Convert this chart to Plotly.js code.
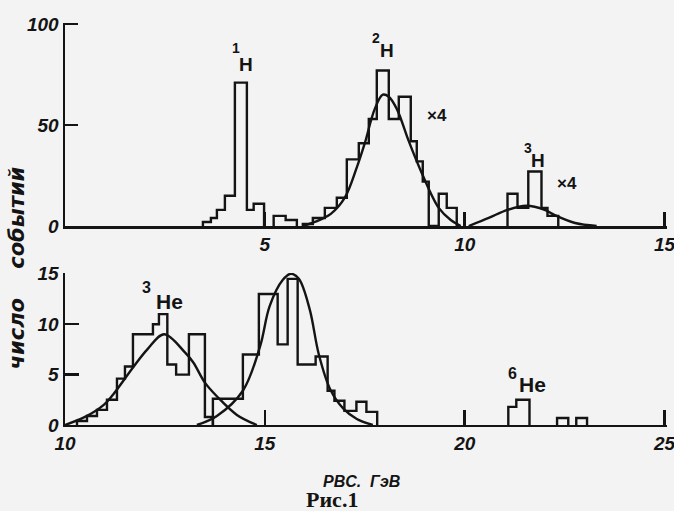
<!DOCTYPE html>
<html>
<head>
<meta charset="utf-8">
<script src="https://cdn.plot.ly/plotly-3.0.1.min.js"></script>
<style>html,body{margin:0;padding:0;background:#f3f3f3;}#chart{width:674px;height:511px;}</style>
</head>
<body>
<div id="chart"></div>
<script>
// ---- Top panel (hydrogen isotopes), x in GeV, y = number of events ----
const h1Edges  = [3.45, 3.65, 3.8, 4.0, 4.25, 4.55, 4.72, 4.98];
const h1Counts = [2, 4, 8, 15, 71, 8, 11];
const h1TailEdges  = [5.22, 5.52, 5.8];
const h1TailCounts = [5, 3];
const h2Edges  = [5.95, 6.2, 6.5, 6.8, 7.05, 7.35, 7.6, 7.8, 8.1, 8.35, 8.65, 8.8, 8.95, 9.1, 9.35, 9.55, 9.8];
const h2Counts = [1, 4, 9, 14, 33, 41, 53, 77, 53, 64, 42, 32, 22, 0, 16, 9];
const h3Edges  = [11.07, 11.32, 11.59, 11.92, 12.07, 12.34];
const h3Counts = [16, 9, 27, 9, 5];
// fitted curves
const h2FitX = [5.95, 6.25, 6.65, 7.0, 7.3, 7.5, 7.75, 7.95, 8.1, 8.3, 8.6, 8.93, 9.35, 9.65, 9.9];
const h2FitY = [0, 2, 6, 14, 29, 41, 58, 65, 64, 58, 42, 26, 9, 3, 0];
const h3FitX = [10.1, 10.6, 11.07, 11.54, 12.0, 12.24, 12.76, 13.3];
const h3FitY = [0, 4, 8, 10, 8, 5.5, 1.5, 0];

// ---- Bottom panel (helium isotopes) ----
const he3Edges  = [10.3, 10.55, 10.8, 11.05, 11.3, 11.5, 11.7, 12.2, 12.35, 12.56, 12.78, 13.1, 13.5, 13.7];
const he3Counts = [0.4, 0.9, 1.5, 2.5, 4.6, 5.8, 9, 10, 11, 6, 5, 9, 0.8];
const he4Edges  = [13.7, 14.45, 14.85, 15.32, 15.57, 15.82, 16.27, 16.57, 16.74, 16.99, 17.29, 17.54, 17.81];
const he4Counts = [2.6, 7, 13, 8, 14.5, 6, 6.8, 3.4, 2.4, 1.4, 2.3, 1.3];
const he6Edges  = [21.09, 21.29, 21.62];
const he6Counts = [1.8, 2.5];
const he6bEdges  = [22.31, 22.59];
const he6bCounts = [0.7];
const he6cEdges  = [22.79, 23.06];
const he6cCounts = [0.7];
const he3FitX = [10.0, 10.5, 10.97, 11.2, 11.72, 12.06, 12.48, 13.0, 13.21, 13.5, 13.81, 14.3, 14.8];
const he3FitY = [0, 0.8, 2, 3, 5.8, 7.5, 9, 7.2, 6.2, 4.2, 2.8, 1, 0];
const he4FitX = [13.3, 13.8, 14.45, 14.88, 15.12, 15.45, 15.65, 15.85, 16.12, 16.35, 16.64, 16.97, 17.3, 17.7];
const he4FitY = [0, 0.9, 3.4, 7.8, 11.8, 14.4, 15, 14.5, 11.5, 7, 3.5, 1.6, 0.6, 0];

// ticks
const topXTicks = [5, 10, 15];
const topYTicks = [0, 50, 100];
const botXTicks = [10, 15, 20, 25];
const botYTicks = [0, 5, 10, 15];

const INK = '#141414';

function steps(edges, counts) {
  const x = [edges[0]], y = [0];
  for (let i = 0; i < counts.length; i++) {
    x.push(edges[i], edges[i + 1]);
    y.push(counts[i], counts[i]);
  }
  x.push(edges[edges.length - 1]); y.push(0);
  return {x, y};
}
function histTrace(edges, counts, xa, ya, name) {
  const s = steps(edges, counts);
  return {x: s.x, y: s.y, xaxis: xa, yaxis: ya, type: 'scatter', mode: 'lines',
          line: {color: INK, width: 2.4, shape: 'linear'}, name: name, hoverinfo: 'skip', cliponaxis: false};
}
function fitTrace(x, y, xa, ya, name) {
  return {x: x, y: y, xaxis: xa, yaxis: ya, type: 'scatter', mode: 'lines',
          line: {color: INK, width: 2.4, shape: 'spline', smoothing: 1.0}, name: name, hoverinfo: 'skip', cliponaxis: false};
}

const data = [
  histTrace(h1Edges, h1Counts, 'x', 'y', '1H'),
  histTrace(h1TailEdges, h1TailCounts, 'x', 'y', '1H tail'),
  histTrace(h2Edges, h2Counts, 'x', 'y', '2H'),
  histTrace(h3Edges, h3Counts, 'x', 'y', '3H'),
  fitTrace(h2FitX, h2FitY, 'x', 'y', '2H fit'),
  fitTrace(h3FitX, h3FitY, 'x', 'y', '3H fit'),
  histTrace(he3Edges, he3Counts, 'x2', 'y2', '3He'),
  histTrace(he4Edges, he4Counts, 'x2', 'y2', '4He'),
  histTrace(he6Edges, he6Counts, 'x2', 'y2', '6He'),
  histTrace(he6bEdges, he6bCounts, 'x2', 'y2', '6He b'),
  histTrace(he6cEdges, he6cCounts, 'x2', 'y2', '6He c'),
  fitTrace(he3FitX, he3FitY, 'x2', 'y2', '3He fit'),
  fitTrace(he4FitX, he4FitY, 'x2', 'y2', '4He fit')
];

const tickFont = {family: 'Liberation Sans, Arial, sans-serif', size: 19, color: INK, style: 'italic', weight: 'bold'};
function axisBase(extra) {
  return Object.assign({
    showline: true, linecolor: INK, linewidth: 2.5, showgrid: false, zeroline: false,
    ticks: 'inside', tickcolor: INK, tickwidth: 2.5, tickmode: 'array',
    tickfont: tickFont, fixedrange: true, ticklabeloverflow: 'allow'
  }, extra);
}

const labFont = {family: 'Liberation Sans Narrow, Liberation Sans, sans-serif', size: 19, color: INK, weight: 'bold'};
const supFont = {family: 'Liberation Sans Narrow, Liberation Sans, sans-serif', size: 14, color: INK, weight: 'bold'};
const heFont  = {family: 'Liberation Sans Narrow, Liberation Sans, sans-serif', size: 21, color: INK, weight: 'bold'};
const heSup   = {family: 'Liberation Sans Narrow, Liberation Sans, sans-serif', size: 16, color: INK, weight: 'bold'};
const x4Font  = {family: 'Liberation Sans Narrow, Liberation Sans, sans-serif', size: 17, color: INK, weight: 'bold'};
function lab(text, x, y, xa, ya, font) {
  return {text: text, x: x, y: y, xref: xa, yref: ya, showarrow: false, font: font, xanchor: 'center', yanchor: 'middle'};
}

const layout = {
  width: 674, height: 511,
  margin: {l: 65, r: 7, t: 0, b: 0},
  paper_bgcolor: '#f3f3f3', plot_bgcolor: '#f3f3f3',
  showlegend: false,
  xaxis: axisBase({domain: [0, 1], range: [0, 15.06], anchor: 'y', tickvals: topXTicks, ticklen: 14}),
  yaxis: axisBase({domain: [0.5577, 0.955], range: [0, 100.5], anchor: 'x', tickvals: topYTicks, ticklen: 13}),
  xaxis2: axisBase({domain: [0, 1], range: [10, 25.06], anchor: 'y2', tickvals: botXTicks, ticklen: 15}),
  yaxis2: axisBase({domain: [0.1683, 0.4658], range: [0, 15.08], anchor: 'x2', tickvals: botYTicks, ticklen: 14}),
  annotations: [
    lab('1', 4.29, 88, 'x', 'y', supFont),
    lab('H', 4.54, 80, 'x', 'y', labFont),
    lab('2', 7.77, 93, 'x', 'y', supFont),
    lab('H', 8.05, 87, 'x', 'y', labFont),
    lab('×4', 9.3, 54.7, 'x', 'y', x4Font),
    lab('3', 11.59, 38.4, 'x', 'y', supFont),
    lab('H', 11.84, 32.5, 'x', 'y', labFont),
    lab('×4', 12.55, 21.2, 'x', 'y', x4Font),
    lab('3', 12.04, 13.6, 'x2', 'y2', heSup),
    lab('He', 12.62, 12.3, 'x2', 'y2', heFont),
    lab('4', 15.98, 16.9, 'x2', 'y2', heSup),
    lab('He', 16.48, 15.8, 'x2', 'y2', heFont),
    lab('6', 21.19, 5.1, 'x2', 'y2', heSup),
    lab('He', 21.69, 4.0, 'x2', 'y2', heFont),
    {text: 'число\u00a0\u00a0\u00a0\u00a0событий', xref: 'paper', yref: 'paper', x: -0.079, y: 1 - 268 / 511,
     textangle: -90, showarrow: false, xanchor: 'center', yanchor: 'middle',
     font: {family: 'DejaVu Sans, sans-serif', size: 21, color: INK, style: 'italic', weight: 'bold'}},
    {text: 'PBC.\u00a0\u00a0ГэВ', xref: 'paper', yref: 'paper', x: (361 - 65) / 602, y: 1 - 481 / 511,
     showarrow: false, xanchor: 'center', yanchor: 'middle',
     font: {family: 'Liberation Sans, sans-serif', size: 16, color: INK, style: 'italic', weight: 'bold'}},
    {text: 'Рис.1', xref: 'paper', yref: 'paper', x: (332 - 65) / 602, y: 1 - 499 / 511,
     showarrow: false, xanchor: 'center', yanchor: 'middle',
     font: {family: 'Liberation Serif, serif', size: 22, color: INK, weight: 'bold'}}
  ]
};

Plotly.newPlot('chart', data, layout, {staticPlot: true, displayModeBar: false});
</script>
</body>
</html>
